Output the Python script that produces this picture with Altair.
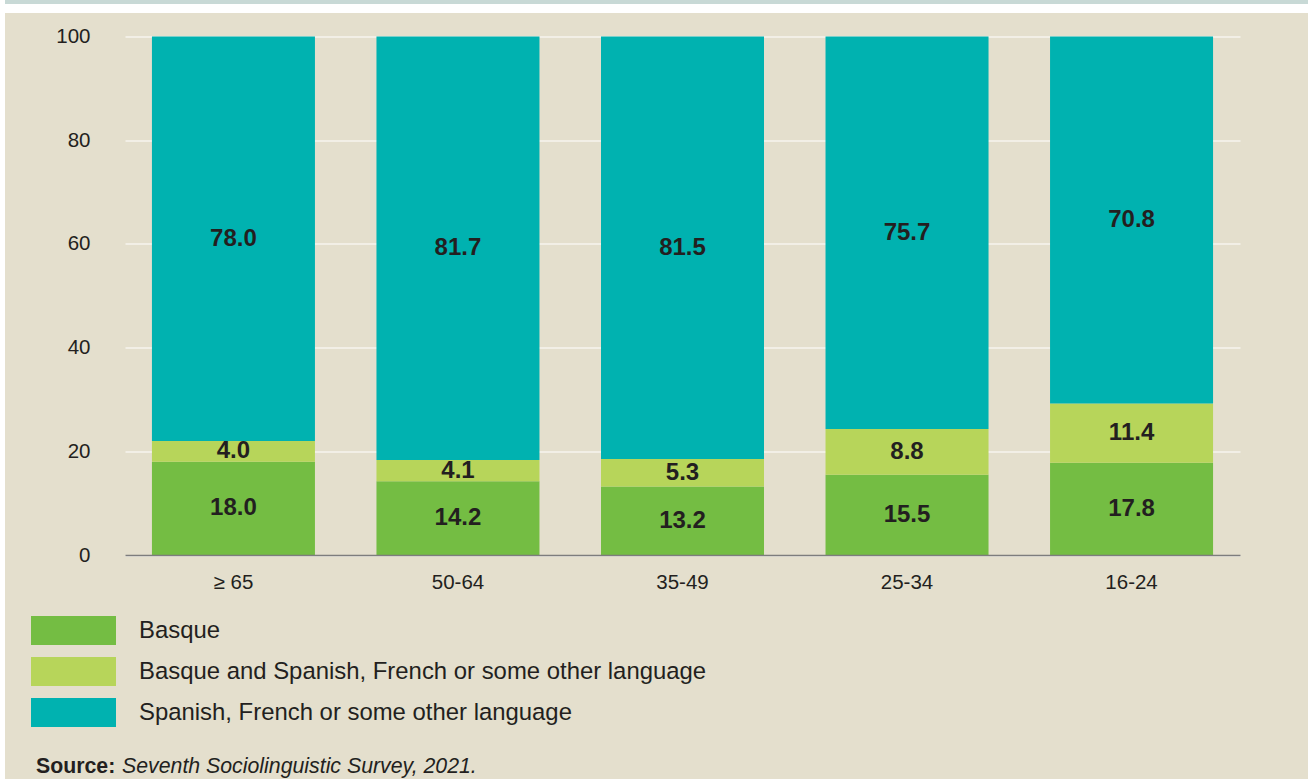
import altair as alt
import pandas as pd

# ---------------- data ----------------
ages = ["≥ 65", "50-64", "35-49", "25-34", "16-24"]
groups = [
    "Basque",
    "Basque and Spanish, French or some other language",
    "Spanish, French or some other language",
]
basque = [18.0, 14.2, 13.2, 15.5, 17.8]
both = [4.0, 4.1, 5.3, 8.8, 11.4]
other = [78.0, 81.7, 81.5, 75.7, 70.8]
colors = ["#74bd43", "#b7d55a", "#00b2b0"]
y_ticks = [0, 20, 40, 60, 80, 100]
source_bold = "Source:"
source_italic = "Seventh Sociolinguistic Survey, 2021."

rows = []
for i, a in enumerate(ages):
    for j, (g, vals) in enumerate(zip(groups, [basque, both, other])):
        rows.append({"age": a, "group": g, "idx": j, "value": vals[i]})
df = pd.DataFrame(rows)

# ---------------- layout ----------------
W, H = 1115, 518.5
LEFT, TOP = 125, 36.5
FONT = "Liberation Sans"
TXT = "#231f20"
BG = "#e4dfcd"

x_enc = alt.X(
    "age:N",
    sort=ages,
    scale=alt.Scale(paddingInner=0.274, paddingOuter=0.12),
    axis=alt.Axis(
        title=None,
        labelAngle=0,
        labelFont=FONT,
        labelFontSize=20.5,
        labelColor=TXT,
        labelPadding=17,
        ticks=False,
        tickSize=0,
        domain=True,
        domainColor="#7d7d7d",
        domainWidth=1.5,
        grid=False,
        zindex=1,
    ),
)

y_scale = alt.Scale(domain=[0, 100], nice=False)

base = alt.Chart(df).transform_stack(
    stack="value",
    groupby=["age"],
    as_=["y0", "y1"],
    sort=[alt.SortField("idx", order="ascending")],
).transform_calculate(mid="(datum.y0 + datum.y1) / 2")

bars = base.mark_bar(stroke=None).encode(
    x=x_enc,
    y=alt.Y(
        "y0:Q",
        scale=y_scale,
        axis=alt.Axis(
            title=None,
            values=y_ticks,
            labelFont=FONT,
            labelFontSize=20.5,
            labelColor=TXT,
            labelPadding=35,
            ticks=False,
            tickSize=0,
            domain=False,
            grid=True,
            gridColor="#ffffff",
            gridWidth=1.2,
        ),
    ),
    y2="y1:Q",
    color=alt.Color(
        "group:N",
        scale=alt.Scale(domain=groups, range=colors),
        legend=alt.Legend(
            title=None,
            orient="none",
            legendX=-94,
            legendY=579.5,
            direction="vertical",
            symbolType="M-1,-0.341H1V0.341H-1Z",
            symbolSize=7225,
            symbolStrokeWidth=0,
            symbolOpacity=1,
            clipHeight=29,
            rowPadding=12,
            labelOffset=23,
            labelFont=FONT,
            labelFontSize=23.9,
            labelColor=TXT,
            labelLimit=0,
            padding=0,
        ),
    ),
    order=alt.Order("idx:Q"),
)

labels = base.mark_text(
    font=FONT, fontSize=24, fontWeight="bold", color=TXT, baseline="middle", align="center"
).encode(
    x=alt.X("age:N", sort=ages),
    y=alt.Y("mid:Q", scale=y_scale),
    text=alt.Text("value:Q", format=".1f"),
)

one = pd.DataFrame({"k": [0]})

# decorative page frame (white left margin, white band and thin top strip)
left_white = alt.Chart(one).mark_rect(color="#ffffff").encode(
    x=alt.value(-LEFT), x2=alt.value(-LEFT + 5), y=alt.value(-TOP), y2=alt.value(779 - TOP)
)
top_white = alt.Chart(one).mark_rect(color="#ffffff").encode(
    x=alt.value(-LEFT + 5), x2=alt.value(1308 - LEFT), y=alt.value(-TOP + 4), y2=alt.value(-TOP + 13)
)
top_strip = alt.Chart(one).mark_rect(color="#c8d9d6").encode(
    x=alt.value(-LEFT + 5), x2=alt.value(1308 - LEFT), y=alt.value(-TOP), y2=alt.value(-TOP + 4)
)

src1 = alt.Chart(one).mark_text(
    font=FONT, fontSize=21.3, fontWeight="bold", color=TXT, align="left", baseline="alphabetic"
).encode(x=alt.value(36 - LEFT), y=alt.value(773 - TOP), text=alt.value(source_bold))
src2 = alt.Chart(one).mark_text(
    font=FONT, fontSize=21.3, fontStyle="italic", color=TXT, align="left", baseline="alphabetic"
).encode(x=alt.value(122 - LEFT), y=alt.value(773 - TOP), text=alt.value(source_italic))

chart = (
    alt.layer(left_white, top_white, top_strip, bars, labels, src1, src2)
    .properties(
        width=W,
        height=H,
        background=BG,
        padding={"left": LEFT, "top": TOP, "right": 1308 - LEFT - W, "bottom": 779 - TOP - H},
        autosize=alt.AutoSizeParams(type="none"),
    )
    .configure_view(stroke=None, fill=None)
)

chart.save("out.html", embed_options={"renderer": "svg", "actions": False})
